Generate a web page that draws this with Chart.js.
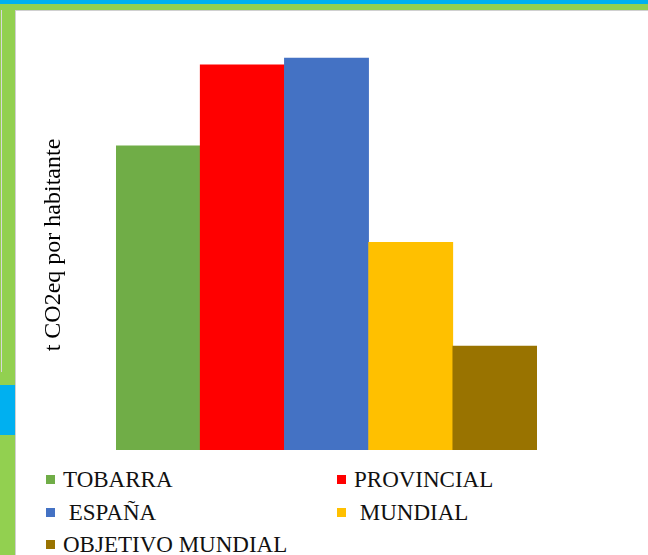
<!DOCTYPE html>
<html>
<head>
<meta charset="utf-8">
<script src="https://cdn.jsdelivr.net/npm/chart.js@4/dist/chart.umd.min.js"></script>
<style>
  html, body { margin: 0; padding: 0; background: #fff; }
  body { width: 648px; height: 555px; position: relative; overflow: hidden; font-family: "Liberation Serif", serif; }
  .bar-top { position: absolute; left: 0; top: 0; width: 648px; height: 4px; background: #00b0f0; }
  .bar-green { position: absolute; left: 0; top: 4px; width: 648px; height: 6px; background: #92d050; }
  .bar-line { position: absolute; left: 15px; top: 10px; width: 633px; height: 1px; background: #d0d0d0; }
  .side { position: absolute; left: 0; top: 10px; width: 15px; height: 545px; background: #92d050; border-right: 1px solid #d0d0d0; }
  .side-line { position: absolute; left: 1px; top: 10px; width: 1px; height: 362px; background: #d8d8d8; }
  .side-cyan { position: absolute; left: 0; top: 385px; width: 15px; height: 50px; background: #00b0f0; }
  #wrap { position: absolute; left: 16px; top: 12px; width: 632px; height: 438px; }
  #legend { position: absolute; left: 46px; top: 468px; width: 600px; display: grid;
            grid-template-columns: 291px 291px; grid-auto-rows: 32.5px; }
  .item { display: flex; align-items: center; height: 23px; font-size: 23px; line-height: 23px; color: #111; white-space: pre; }
  .sw { width: 9px; height: 9px; margin-right: 8px; flex: none; }
</style>
</head>
<body>
<div class="bar-top"></div>
<div class="bar-green"></div>
<div class="bar-line"></div>
<div class="side"></div>
<div class="side-line"></div>
<div class="side-cyan"></div>
<div id="wrap"><canvas id="chart"></canvas></div>
<div id="legend"></div>
<script>
var categories = ["TOBARRA", "PROVINCIAL", " ESPAÑA", " MUNDIAL", "OBJETIVO MUNDIAL"];
var values = [5.86, 7.42, 7.55, 4.0, 2.0];
var colors = ["#70ad47", "#ff0000", "#4472c4", "#ffc000", "#997300"];
var yTitle = "t CO2eq por habitante";

new Chart(document.getElementById("chart"), {
    type: "bar",
    data: {
        labels: categories,
        datasets: [{
            data: values,
            backgroundColor: colors,
            borderWidth: 0,
            categoryPercentage: 1,
            barPercentage: 1
        }]
    },
    options: {
        responsive: true,
        maintainAspectRatio: false,
        animation: false,
        layout: { padding: { left: 17.6, top: 28, right: 111, bottom: 0 } },
        plugins: { legend: { display: false }, tooltip: { enabled: false } },
        scales: {
            x: { display: false },
            y: {
                min: 0,
                max: 7.9,
                border: { display: false },
                grid: { display: false, drawTicks: false },
                ticks: { display: false },
                title: {
                    display: true,
                    text: yTitle,
                    color: "#000",
                    font: { family: "Liberation Serif", size: 24, lineHeight: 1.2 },
                    padding: { top: 6, bottom: 47.6 }
                }
            }
        }
    }
});

// legend in two columns, like the original sheet
var legend = document.getElementById("legend");
categories.forEach(function (c, i) {
    var item = document.createElement("div");
    item.className = "item";
    var sw = document.createElement("span");
    sw.className = "sw";
    sw.style.background = colors[i];
    item.appendChild(sw);
    item.appendChild(document.createTextNode(c));
    legend.appendChild(item);
});
</script>
</body>
</html>
